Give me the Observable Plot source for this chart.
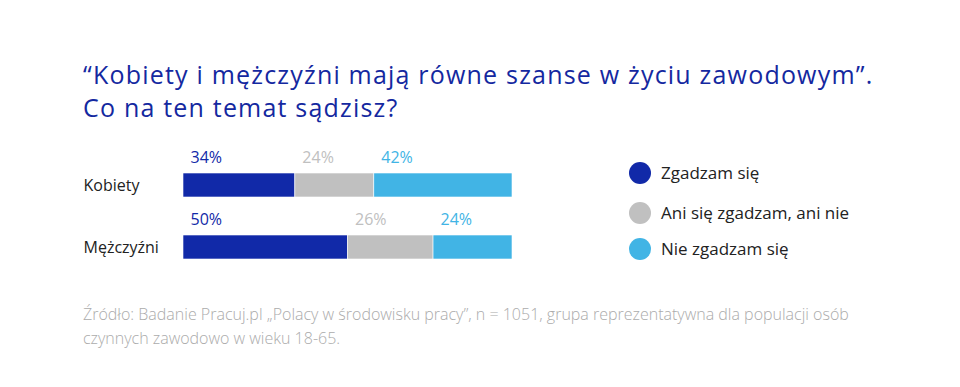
<!DOCTYPE html>
<html lang="pl">
<head>
<meta charset="utf-8">
<script src="https://cdn.jsdelivr.net/npm/d3@7"></script>
<script src="https://cdn.jsdelivr.net/npm/@observablehq/plot@0.6"></script>
<style>
  body { margin: 0; background: #fff; font-family: "Open Sans", sans-serif; }
  #wrap { position: relative; width: 960px; height: 387px; overflow: hidden; }
  #title { position: absolute; left: 83px; top: 58px; margin: 0; font-size: 25px; line-height: 33px; font-weight: 400; letter-spacing: 1.2px; color: #1428a0; white-space: nowrap; }
  #chart { position: absolute; left: 0; top: 130px; }
  .item { position: absolute; left: 629px; display: flex; align-items: center; white-space: nowrap; font-size: 17px; color: #222; }
  .swatch { width: 22px; height: 22px; border-radius: 50%; margin-right: 10px; }
  #caption { position: absolute; left: 83px; top: 302px; font-size: 16px; line-height: 24px; font-weight: 300; color: #ababab; white-space: nowrap; }
</style>
</head>
<body>
<div id="wrap">
  <h1 id="title">“Kobiety i mężczyźni mają równe szanse w życiu zawodowym”.<br>Co na ten temat sądzisz?</h1>
  <div id="chart"></div>
  <div id="legend"></div>
  <div id="caption">Źródło: Badanie Pracuj.pl „Polacy w środowisku pracy”, n = 1051, grupa reprezentatywna dla populacji osób<br>czynnych zawodowo w wieku 18-65.</div>
</div>
<script>
// Respondent groups and answer categories
const groups = ["Kobiety", "Mężczyźni"];
const answers = ["Zgadzam się", "Ani się zgadzam, ani nie", "Nie zgadzam się"];

// Share of answers (%) per group, in the order of `groups`
const agree = [34, 50];
const neutral = [24, 26];
const disagree = [42, 24];

const colors = ["#1129a8", "#c0c0c0", "#41b4e5"];

// Tidy rows for the stacked bars
const series = [agree, neutral, disagree];
const rows = [];
groups.forEach((g, gi) => {
  answers.forEach((a, ai) => rows.push({ group: g, answer: a, value: series[ai][gi] }));
});

const chart = Plot.plot({
  width: 560,
  height: 150,
  marginLeft: 183,
  marginRight: 48,
  marginTop: 23.75,
  marginBottom: 1.25,
  style: { fontFamily: "Open Sans, sans-serif", fontSize: "16px", overflow: "visible", background: "transparent" },
  x: { domain: [0, 100], axis: null },
  y: { type: "band", domain: groups, paddingInner: 0.616, paddingOuter: 0.308, axis: null },
  color: { domain: answers, range: colors },
  marks: [
    Plot.barX(rows, Plot.stackX({ x: "value", y: "group", fill: "answer", stroke: "white", strokeWidth: 0.6 })),
    Plot.text(rows, Plot.stackX1({
      x: "value", y: "group", fill: "answer",
      text: d => d.value + "%",
      textAnchor: "start", dx: 7, dy: -28
    })),
    Plot.text(groups, { y: d => d, text: d => d, frameAnchor: "left", textAnchor: "start", dx: -100, fill: "#222" })
  ]
});
document.getElementById("chart").append(chart);

// Legend built from the same answers and colours
const legend = document.getElementById("legend");
const legendTops = [161, 201, 237];
answers.forEach((a, i) => {
  const item = document.createElement("div");
  item.className = "item";
  item.style.top = legendTops[i] + "px";
  const sw = document.createElement("span");
  sw.className = "swatch";
  sw.style.background = colors[i];
  const label = document.createElement("span");
  label.textContent = a;
  item.append(sw, label);
  legend.append(item);
});
</script>
</body>
</html>
